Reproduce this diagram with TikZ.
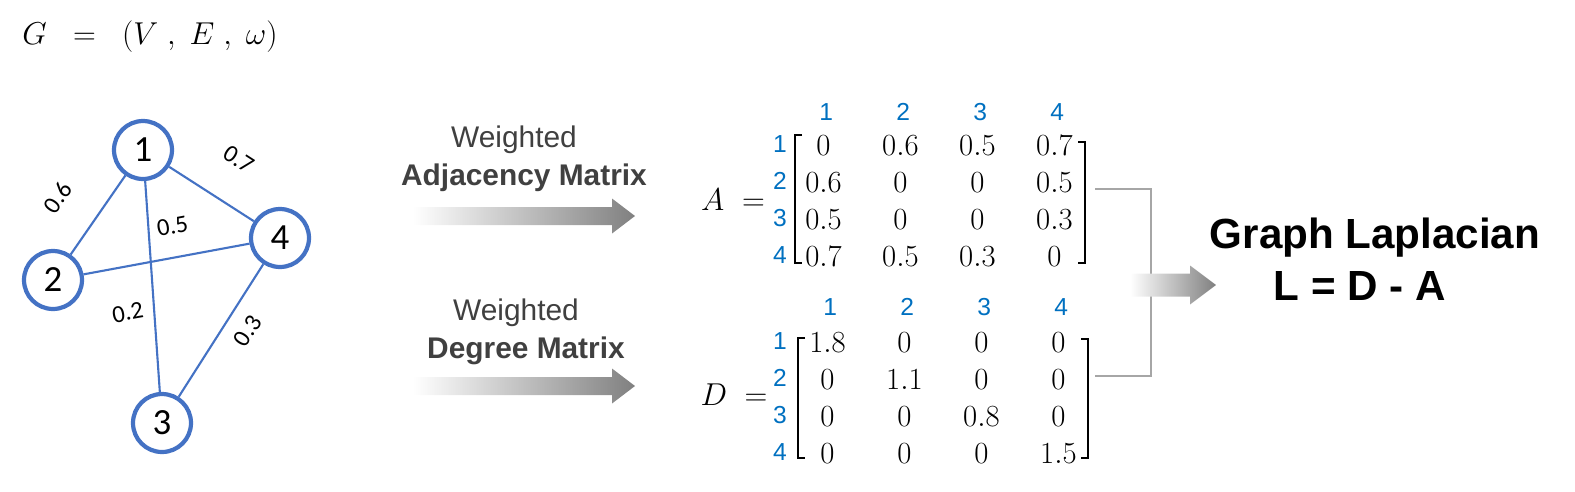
\RequirePackage{fix-cm}
\documentclass[tikz,border=0pt]{standalone}
\usepackage[no-math]{fontspec}
\setmainfont{Carlito}
\newfontfamily\arial{Liberation Sans}
\usetikzlibrary{matrix,positioning}
\definecolor{nodeblue}{RGB}{68,114,196}
\definecolor{idxblue}{RGB}{0,112,192}
\definecolor{textgray}{RGB}{64,64,64}
\definecolor{linkgray}{RGB}{166,166,166}
\definecolor{arrowgray}{RGB}{128,128,128}
\begin{document}
\begin{tikzpicture}[x=0.02cm, y=-0.02cm,
    vertex/.style={circle, draw=nodeblue, line width=2.4pt, minimum size=33pt, inner sep=0pt, font=\fontsize{21}{24}\selectfont},
    edge/.style={draw=nodeblue, line width=1.2pt},
    weight/.style={font=\fontsize{14}{16}\selectfont, inner sep=0pt},
    idx/.style={text=idxblue, font=\arial\fontsize{14}{16}\selectfont, inner sep=0pt},
    entries/.style={matrix of math nodes, nodes={minimum width=1.54cm, minimum height=0.74cm, inner sep=0pt, font=\fontsize{17.5}{20}\selectfont}},
    bracket/.style={line width=1.1pt},
    link/.style={draw=linkgray, line width=1.1pt},
    fadearrow/.style={left color=white, right color=arrowgray},
    caption/.style={text=textgray, font=\arial\fontsize{17}{20}\selectfont, anchor=base},
    result/.style={font=\arial\bfseries\fontsize{24}{28}\selectfont, anchor=base}]
  \useasboundingbox (0,0) rectangle (1575,491);
  \node[font=\fontsize{18}{22}\selectfont] (title) at (150,37) {$G \;\;=\;\; (V\;,\; E\;,\; \omega)$};

  % graph
  \node[vertex] (v1) at (143,150) {1};
  \node[vertex] (v2) at (53,280) {2};
  \node[vertex] (v3) at (162,423) {3};
  \node[vertex] (v4) at (280,238) {4};
  \draw[edge] (v1) -- node[weight, sloped, above=19pt, pos=0.59] (w12) {0.6} (v2);
  \draw[edge] (v1) -- node[weight, sloped, above=19.8pt, pos=0.54] (w14) {0.7} (v4);
  \draw[edge] (v2) -- node[weight, sloped, above=12.5pt, pos=0.57] (w24) {0.5} (v4);
  \draw[edge] (v1) -- node[weight, rotate=10, left=5.7pt, pos=0.61] (w13) {0.2} (v3);
  \draw[edge] (v3) -- node[weight, sloped, below=7.7pt, pos=0.59] (w34) {0.3} (v4);

  % arrows to the matrices
  \node[caption] (adjw) at (514,147) {Weighted};
  \node[caption] (adjname) at (524,185) {\bfseries Adjacency Matrix};
  \node[caption] (degw) at (516,320) {Weighted};
  \node[caption] (degname) at (526,358) {\bfseries Degree Matrix};
  \foreach \y in {216,386}
    \shade[fadearrow] (413,\y-9) -- (612,\y-9) -- (612,\y-17.5) -- (635,\y)
      -- (612,\y+17.5) -- (612,\y+9) -- (413,\y+9) -- cycle;

  % adjacency matrix
  \node[font=\fontsize{18}{22}\selectfont, anchor=base] (Alhs) at (733,210) {$A\;=$};
  \matrix (A) [entries] at (939,201.5) {
    0 & 0.6 & 0.5 & 0.7 \\
    0.6 & 0 & 0 & 0.5 \\
    0.5 & 0 & 0 & 0.3 \\
    0.7 & 0.5 & 0.3 & 0 \\
  };
  \draw[bracket] (802,135) -- (795,135) -- (795,263) -- (802,263);
  \draw[bracket] (1078,142) -- (1085,142) -- (1085,263) -- (1078,263);

  % degree matrix
  \node[font=\fontsize{18}{22}\selectfont, anchor=base] (Dlhs) at (734,405) {$D\;=$};
  \matrix (D) [entries] at (943,398) {
    1.8 & 0 & 0 & 0 \\
    0 & 1.1 & 0 & 0 \\
    0 & 0 & 0.8 & 0 \\
    0 & 0 & 0 & 1.5 \\
  };
  \draw[bracket] (805,338) -- (798,338) -- (798,458) -- (805,458);
  \draw[bracket] (1081,339) -- (1088,339) -- (1088,458) -- (1081,458);

  % row and column numbers
  \foreach \i in {1,...,4} {
    \node[idx] (Ac\i) at ([xshift=1.5pt]A-1-\i |- 0,112) {\i};
    \node[idx] (Ar\i) at ([yshift=1pt]780,0 |- A-\i-1) {\i};
    \node[idx] (Dc\i) at ([xshift=1.5pt]D-1-\i |- 0,307) {\i};
    \node[idx] (Dr\i) at ([yshift=1pt]780,0 |- D-\i-1) {\i};
  }

  % laplacian
  \coordinate (Aout) at (1095,189);
  \coordinate (Dout) at (1095,376);
  \draw[link] (Aout) -- ++(56,0) |- (Dout);
  \shade[fadearrow] (1130,273.5) -- (1190,273.5) -- (1190,265.5) -- (1216,285)
    -- (1190,304.5) -- (1190,296.5) -- (1130,296.5) -- cycle;
  \node[result] (lap) at (1375,248) {Graph Laplacian};
  \node[result] (leq) at (1360,300) {L = D - A};
\end{tikzpicture}
\end{document}
